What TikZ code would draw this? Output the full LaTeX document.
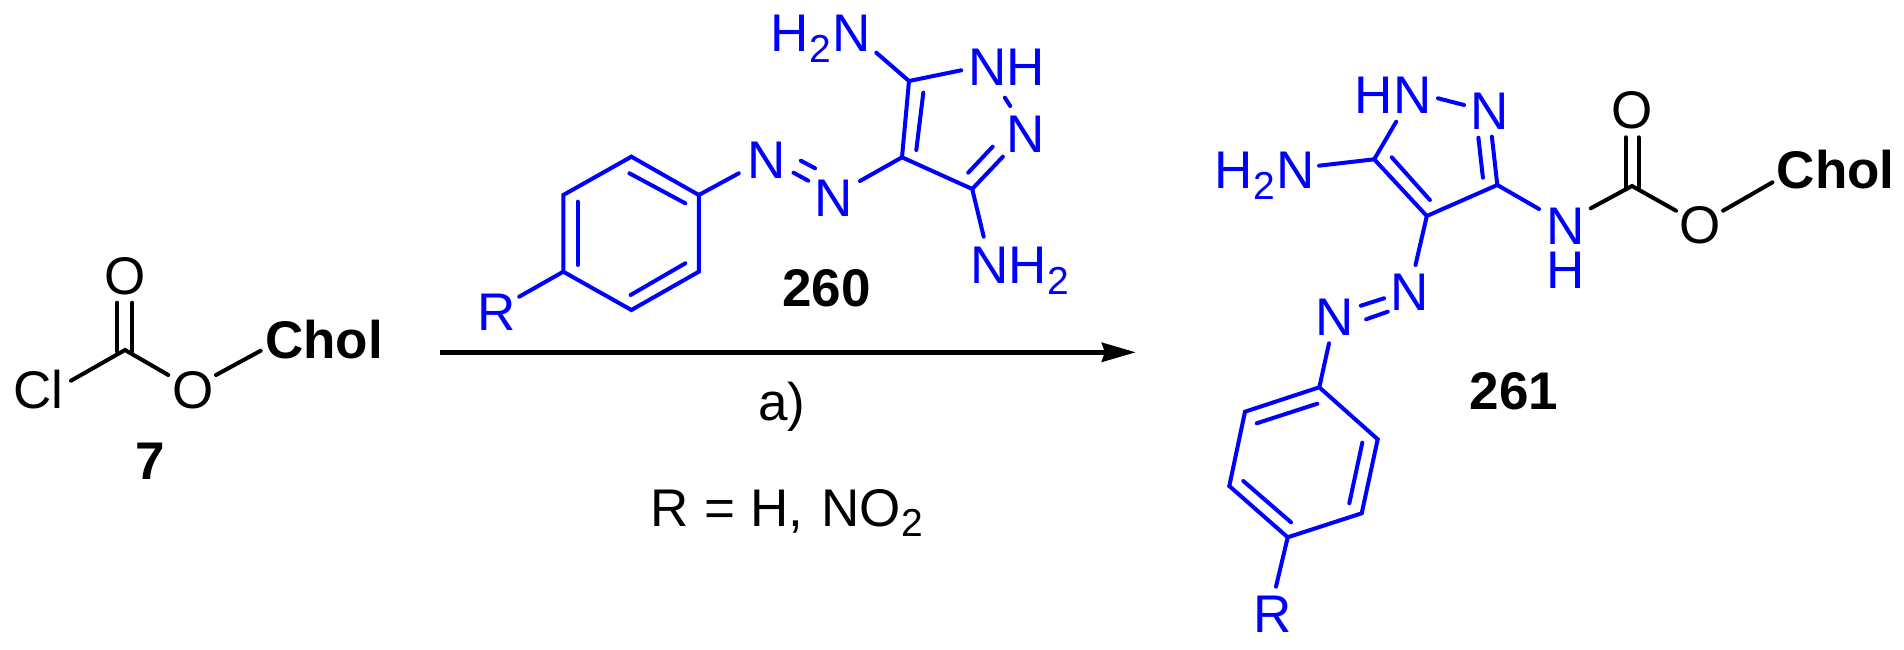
\documentclass[tikz,border=0pt]{standalone}
\usepackage{fontspec}
\setmainfont{Liberation Sans}
\usetikzlibrary{arrows.meta}
\definecolor{chemblue}{RGB}{0,0,255}
\newcommand{\subtwo}{\raisebox{-10.7pt}{\kern1pt\fontsize{39}{39}\selectfont 2\kern1pt}}
\tikzset{
  lbl/.style={inner sep=0pt,outer sep=0pt,anchor=base,font=\fontsize{53}{60}\selectfont},
  lblw/.style={lbl,anchor=base west},
  blueatom/.style={lbl,text=chemblue},
  blueatomw/.style={lblw,text=chemblue},
  blackatom/.style={lbl,text=black},
  cmpd/.style={lbl,text=black,font=\fontsize{53}{60}\selectfont\bfseries},
  bluebond/.style={draw=chemblue,line width=4pt,line cap=round,line join=miter},
  blackbond/.style={draw=black,line width=4pt,line cap=round,line join=miter},
  rxnarrow/.style={draw=black,line width=4.7pt,-{Stealth[length=34pt,width=19pt,inset=3pt]}}
}
\begin{document}
\begin{tikzpicture}[x=1pt,y=-1pt]
\useasboundingbox (0,0) rectangle (1904,650);
% ---------- compound 7
\node[blackatom] (cCl) at (38.3,408.3) {Cl};
\node[blackatom] (cOt) at (125,294.3) {O};
\node[blackatom] (cO) at (192.7,408.3) {O};
\node[cmpd,anchor=base west] (cChol) at (265.2,358.3) {Chol};
\node[cmpd] (c7) at (150,479.3) {7};
\coordinate (cC) at (125,350);
\coordinate (cC1) at (71,380.7);
\coordinate (cO1) at (168.3,375);
\coordinate (cO2) at (216,375);
\coordinate (cCh) at (260.7,350.7);
\coordinate (cD1a) at (117.3,302.7);
\coordinate (cD1b) at (117.3,351.7);
\coordinate (cD2a) at (132.3,302.7);
\coordinate (cD2b) at (132.3,351.7);
\draw[blackbond] (cC1) -- (cC) -- (cO1);
\draw[blackbond] (cO2) -- (cCh);
\draw[blackbond] (cD1a) -- (cD1b);
\draw[blackbond] (cD2a) -- (cD2b);
% ---------- compound 260
\coordinate (a1) at (631.4,156.7);
\coordinate (a2) at (698.8,195);
\coordinate (a3) at (698.8,271.7);
\coordinate (a4) at (631.4,310);
\coordinate (a5) at (563.3,271.7);
\coordinate (a6) at (563.3,195);
\draw[bluebond] (a1) -- (a2) -- (a3) -- (a4) -- (a5) -- (a6) -- cycle;
\coordinate (ai1a) at (629.4,173.3);
\coordinate (ai1b) at (685.3,203.3);
\coordinate (ai2a) at (577.6,201.7);
\coordinate (ai2b) at (577.6,265);
\coordinate (ai3a) at (630.6,295);
\coordinate (ai3b) at (685.3,263.3);
\draw[bluebond] (ai1a) -- (ai1b);
\draw[bluebond] (ai2a) -- (ai2b);
\draw[bluebond] (ai3a) -- (ai3b);
\node[blueatom] (aR) at (497.1,330) {R};
\coordinate (aRb) at (519.2,296.7);
\draw[bluebond] (a5) -- (aRb);
\node[blueatom] (aN1) at (766.5,178.3) {N};
\node[blueatom] (aN2) at (833.9,216) {N};
\coordinate (aN1b) at (738.8,173.3);
\draw[bluebond] (a2) -- (aN1b);
\coordinate (aNa) at (800.8,160.7);
\coordinate (aNb) at (815.1,168.3);
\coordinate (aNc) at (793.5,172.7);
\coordinate (aNd) at (808.2,180.7);
\draw[bluebond] (aNa) -- (aNb);
\draw[bluebond] (aNc) -- (aNd);
\coordinate (aC4) at (902,157.3);
\coordinate (aC5) at (909,81);
\coordinate (aC3) at (972.2,189);
\coordinate (aN2b) at (860,181);
\draw[bluebond] (aN2b) -- (aC4);
\coordinate (aNHb) at (961.2,70.3);
\coordinate (aNdb) at (1002.9,156.7);
\draw[bluebond] (aNHb) -- (aC5) -- (aC4) -- (aC3) -- (aNdb);
\coordinate (aIa) at (916.3,150);
\coordinate (aIb) at (923.3,92.7);
\draw[bluebond] (aIa) -- (aIb);
\coordinate (aIc) at (992.7,146.7);
\coordinate (aId) at (968.2,172.7);
\draw[bluebond] (aIc) -- (aId);
\node[blueatomw] (aNH) at (968.2,86) {NH};
\node[blueatom] (aNr) at (1025.7,152.7) {N};
\coordinate (aNNa) at (1004.9,97.7);
\coordinate (aNNb) at (1010.2,106);
\draw[bluebond] (aNNa) -- (aNNb);
\node[blueatomw] (aNH2) at (970.3,283.3) {NH\subtwo};
\coordinate (aNH2b) at (983.7,236.7);
\draw[bluebond] (aC3) -- (aNH2b);
\node[blueatomw] (aH2N) at (770.1,51.7) {H\subtwo N};
\coordinate (aH2Nb) at (876.3,52.7);
\draw[bluebond] (aC5) -- (aH2Nb);
\node[cmpd] (a260) at (826.5,306.7) {260};
% ---------- arrow and conditions
\coordinate (arrS) at (439.8,352.3);
\coordinate (arrE) at (1135.9,352.3);
\draw[rxnarrow] (arrS) -- (arrE);
\node[blackatom] (cond) at (781.7,420) {a)};
\node[lblw,text=black] (rdef) at (650.3,526) {R\kern1.5pt{} = H,\kern3pt{} NO\subtwo};
% ---------- compound 261
\node[blueatom] (bHN) at (1393.1,114) {HN};
\node[blueatom] (bNr) at (1489.6,130) {N};
\coordinate (bNNa) at (1438,98.3);
\coordinate (bNNb) at (1464,105);
\draw[bluebond] (bNNa) -- (bNNb);
\coordinate (bNdb) at (1491.9,136.7);
\coordinate (bC3) at (1497.3,185);
\coordinate (bC4) at (1426.8,216);
\coordinate (bC5) at (1374.2,159.3);
\coordinate (bHNb) at (1396.2,121.7);
\draw[bluebond] (bNdb) -- (bC3) -- (bC4) -- (bC5) -- (bHNb);
\coordinate (bIa) at (1478.4,137.7);
\coordinate (bIb) at (1482.9,177.7);
\draw[bluebond] (bIa) -- (bIb);
\coordinate (bIc) at (1391.7,157.3);
\coordinate (bId) at (1429.9,200);
\draw[bluebond] (bIc) -- (bId);
\node[blueatomw] (bH2N) at (1214.7,188.3) {H\subtwo N};
\coordinate (bH2Nb) at (1319,165.7);
\draw[bluebond] (bC5) -- (bH2Nb);
\coordinate (bAzb) at (1415.5,265);
\draw[bluebond] (bC4) -- (bAzb);
\node[blueatom] (bN1) at (1409.7,310.7) {N};
\node[blueatom] (bN2) at (1334.7,335) {N};
\coordinate (bNa) at (1360.8,305.7);
\coordinate (bNb) at (1384.1,298.3);
\coordinate (bNc) at (1366.1,319.3);
\coordinate (bNd) at (1387.7,311.7);
\draw[bluebond] (bNa) -- (bNb);
\draw[bluebond] (bNc) -- (bNd);
\coordinate (bNHb) at (1539,209);
\draw[bluebond] (bC3) -- (bNHb);
\node[blueatom] (bN) at (1566,244) {N};
\node[blueatom] (bH) at (1566,288.3) {H};
\coordinate (bNHc) at (1590.7,208.3);
\coordinate (bC) at (1632,186);
\coordinate (bOa) at (1676,210.7);
\draw[blackbond] (bNHc) -- (bC) -- (bOa);
\coordinate (bD1a) at (1625.7,137.3);
\coordinate (bD1b) at (1625.7,187.5);
\coordinate (bD2a) at (1638.7,137.3);
\coordinate (bD2b) at (1638.7,187.5);
\draw[blackbond] (bD1a) -- (bD1b);
\draw[blackbond] (bD2a) -- (bD2b);
\node[blackatom] (bOt) at (1632,129) {O};
\node[blackatom] (bO) at (1700.2,243) {O};
\coordinate (bOb) at (1723.1,210.7);
\coordinate (bCh) at (1772.5,182.3);
\draw[blackbond] (bOb) -- (bCh);
\node[cmpd,anchor=base west] (bChol) at (1776.8,189) {Chol};
\coordinate (r1) at (1319.3,387.3);
\coordinate (r2) at (1245,411.7);
\coordinate (r3) at (1229.3,486);
\coordinate (r4) at (1287.7,537.3);
\coordinate (r5) at (1361.7,513.3);
\coordinate (r6) at (1377.7,439.3);
\draw[bluebond] (r1) -- (r2) -- (r3) -- (r4) -- (r5) -- (r6) -- cycle;
\coordinate (rAz) at (1329,343.3);
\draw[bluebond] (rAz) -- (r1);
\coordinate (ri1a) at (1317.3,403.7);
\coordinate (ri1b) at (1256.7,423.3);
\coordinate (ri2a) at (1243.3,481);
\coordinate (ri2b) at (1291,522.3);
\coordinate (ri3a) at (1349.3,503.3);
\coordinate (ri3b) at (1362.3,442.7);
\draw[bluebond] (ri1a) -- (ri1b);
\draw[bluebond] (ri2a) -- (ri2b);
\draw[bluebond] (ri3a) -- (ri3b);
\coordinate (rRb) at (1276,586.7);
\draw[bluebond] (r4) -- (rRb);
\node[blueatom] (rR) at (1272.3,632.3) {R};
\node[cmpd] (b261) at (1514,409) {261};
\end{tikzpicture}
\end{document}
